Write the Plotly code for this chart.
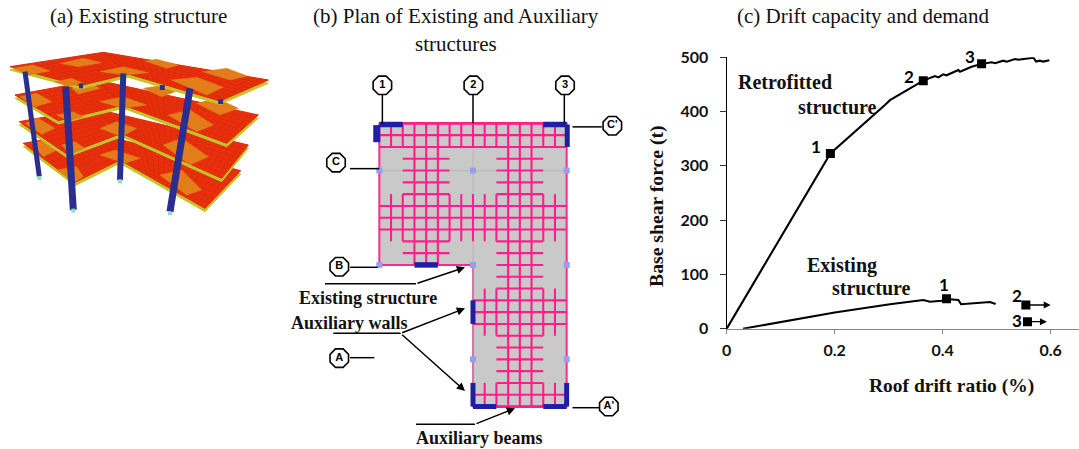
import plotly.graph_objects as go

W, H = 1079, 449

# ---------- panel (c) data ----------
retro_x = [0, .192, .293, .3024, .364, .3857, .392, .401, .407, .429, .432, .4535, .472, .4907, .497, .512, .5185, .534, .54, .5585, .568, .573, .58, .586, .5975]
retro_y = [0, 323, 412, 421, 457, 465.5, 463, 468.7, 466.8, 476.6, 473.5, 482.7, 487.6, 490.8, 489, 493.8, 492, 496.9, 495.6, 498.7, 499.3, 492, 493.8, 492, 494.5]
exist_x = [.03, .2, .3024, .3395, .364, .3765, .398, .407, .429, .434, .4876, .498]
exist_y = [0, 30, 45, 49.2, 52.9, 49.7, 51.5, 54.7, 52.9, 45, 49.2, 45.5]
retro_mark_x = [.192, .364, .472]
retro_mark_y = [323, 457, 488]
exist_mark_x = [.407, .554, .557]
exist_mark_y = [55, 43.6, 13]
x_ticks = [0, .2, .4, .6]
x_tick_labels = ["0", "0.2", "0.4", "0.6"]
y_ticks = [0, 100, 200, 300, 400, 500]

# ---------- panel (b) data, in plan grid units (column, row) ----------
plan_outline_c = [0, 16, 16, 8, 8, 0, 0]
plan_outline_r = [0, 0, 24, 24, 12, 12, 0]
h_lines = [  # row, from column, to column
    (1, 0, 16), (2, 0, 16),
    (3, 2, 6), (4, 2, 6), (5, 2, 6), (6, 2, 6),
    (3, 10, 14), (4, 10, 14), (5, 10, 14), (6, 10, 14),
    (7, 0, 16), (8, 0, 16), (9, 0, 16),
    (10, 2, 6), (11, 2, 6), (10, 10, 14), (11, 10, 14),
    (12, 10, 14), (13, 10, 14), (14, 10, 14),
    (15, 8, 16), (16, 8, 16), (17, 8, 16),
    (18, 10, 14), (19, 10, 14), (20, 10, 14), (21, 10, 14), (22, 10, 14),
    (23, 8, 16),
]
v_lines = [  # column, from row, to row
    (1, 0, 2), (2, 0, 2), (6, 0, 2), (7, 0, 2), (8, 0, 2), (9, 0, 2), (10, 0, 2), (14, 0, 2), (15, 0, 2),
    (1, 6, 10), (2, 6, 10), (6, 6, 10), (7, 6, 10), (8, 6, 10), (9, 6, 10), (10, 6, 10), (14, 6, 10), (15, 6, 10),
    (9, 14, 18), (10, 14, 18), (14, 14, 18), (15, 14, 18),
    (9, 22, 24), (10, 22, 24), (14, 22, 24), (15, 22, 24),
    (3, 0, 12), (4, 0, 12), (5, 0, 12),
    (11, 0, 24), (12, 0, 24), (13, 0, 24),
]
thin_c = [0, 16, None, 8, 8]
thin_r = [4, 4, None, 0, 24]
walls = [  # c0, r0, c1, r1, width
    (0, .1, 2, .1, 5.5), (14, .1, 16, .1, 5.5), (-.22, .15, -.22, 1.6, 7), (16.05, .1, 16.05, 2, 5),
    (3, 12, 5, 12, 5.5), (8, 15, 8, 17, 5), (8, 22, 8, 24, 5), (16, 22, 16, 24, 5),
    (8, 24, 10, 24, 5), (14, 24, 16, 24, 5),
]
node_c = [0, 8, 16, 0, 8, 16, 8, 16]
node_r = [4, 4, 4, 12, 12, 12, 20, 20]
bubble_c = [.26, 8.03, 15.86, 19.9, -3.7, -3.42, -3.42, 19.6]
bubble_r = [-3.22, -3.22, -3.22, .2, 3.33, 12.15, 19.9, 24]
bubble_text = ["1", "2", "3", "C'", "C", "B", "A", "A'"]
leaders = [
    ((.26, .26), (-2.4, 0)), ((8, 8), (-2.4, 0)), ((15.8, 15.8), (-2.4, 0)),
    ((16.5, 19), (.3, .3)), ((-2.5, 0), (3.84, 3.84)), ((-2.5, -.14), (12.2, 12.2)),
    ((-2.5, -.43), (19.86, 19.86)), ((16.5, 18.8), (24.1, 24.1)),
]
pointer_tails = [
    ((-4.64, 3.13), (13.6, 13.6)), ((-3.93, 1.82), (17.8, 17.8)), ((3.13, 8.17), (25.5, 25.5)),
]
pointer_heads = [  # tail c, tail r, head c, head r
    (3.13, 13.6, 7.32, 12.2), (1.82, 17.8, 7.32, 15.68), (1.82, 17.8, 7.32, 22.68), (8.17, 25.5, 11.59, 24.15),
]

# ---------- panel (a) data, in sketch units ----------
floors = [  # bottom to top: left, back, far right, front right, inner, front left
    [(70, 430), (270, 395), (722, 512), (615, 625), (360, 480), (225, 547)],
    [(58, 365), (280, 325), (745, 435), (665, 535), (365, 400), (200, 462)],
    [(45, 285), (290, 240), (775, 345), (680, 430), (370, 315), (175, 362)],
    [(30, 200), (310, 157), (805, 240), (660, 303), (385, 222), (240, 257)],
]
floor_panels = [
    [[(95, 430), (135, 420), (170, 450), (130, 470)], [(170, 510), (230, 500), (250, 530), (225, 545)],
     [(300, 465), (345, 450), (420, 475), (375, 490)], [(480, 525), (545, 510), (605, 570), (560, 585)]],
    [[(75, 370), (115, 355), (165, 385), (125, 403)], [(185, 435), (225, 425), (255, 445), (210, 462)],
     [(300, 385), (350, 365), (410, 385), (365, 410)], [(490, 435), (545, 415), (625, 470), (570, 495)]],
    [[(60, 290), (110, 280), (155, 305), (105, 320)], [(170, 345), (220, 335), (250, 350), (205, 362)],
     [(300, 305), (370, 290), (440, 315), (370, 325)], [(430, 265), (495, 255), (525, 275), (485, 290)],
     [(505, 345), (570, 330), (640, 375), (590, 395)], [(590, 310), (650, 295), (715, 325), (660, 345)],
     [(215, 265), (280, 255), (300, 265), (235, 282)]],
    [[(40, 205), (100, 195), (150, 213), (85, 225)], [(180, 190), (250, 175), (305, 188), (235, 200)],
     [(300, 215), (370, 200), (445, 218), (375, 225)], [(165, 245), (215, 235), (250, 250), (205, 258)],
     [(435, 183), (470, 178), (535, 195), (500, 205)], [(515, 240), (590, 232), (670, 262), (620, 285)],
     [(608, 215), (680, 205), (742, 228), (690, 240)]],
]
columns = [  # x0, y0, x1, y1, width
    (75, 215, 118, 530, 5), (197, 260, 220, 630, 7), (370, 220, 360, 540, 6), (570, 265, 510, 635, 7),
    (243, 250, 243, 265, 4), (487, 255, 487, 270, 5), (662, 298, 662, 312, 5),
]
column_feet_x = [118, 220, 360, 510]
column_feet_y = [534, 632, 544, 640]

fig = go.Figure()
skip = dict(showlegend=False, hoverinfo="skip")


def lerp(p, q, t):
    return (p[0] + (q[0] - p[0]) * t, p[1] + (q[1] - p[1]) * t)


def quad(a, b, c, d, u, v):
    return lerp(lerp(a, b, u), lerp(d, c, u), v)


def add3(xs, ys, **kw):
    fig.add_trace(go.Scatter(x=xs, y=ys, xaxis="x3", yaxis="y3", **skip, **kw))


def add2(xs, ys, **kw):
    fig.add_trace(go.Scatter(x=xs, y=ys, xaxis="x2", yaxis="y2", **skip, **kw))


# ---- panel (a)
for fl, patches in zip(floors, floor_panels):
    p0, p1, p2, p3, p4, p5 = fl
    shadow = fl + [fl[0]]
    add3([p[0] for p in shadow], [p[1] + 10 for p in shadow], mode="lines", fill="toself",
         fillcolor="#c4c428", line=dict(color="#c4c428", width=1))
    add3([p[0] for p in shadow], [p[1] for p in shadow], mode="lines", fill="toself",
         fillcolor="#ea2f0c", line=dict(color="#ea2f0c", width=1))
    gx, gy = [], []
    for corners, nu, nv in (((p0, p1, p4, p5), 12, 8), ((p1, p2, p3, p4), 22, 8)):
        for i in range(nu + 1):
            a, b = quad(*corners, i / nu, 0), quad(*corners, i / nu, 1)
            gx += [a[0], b[0], None]
            gy += [a[1], b[1], None]
        for j in range(nv + 1):
            a, b = quad(*corners, 0, j / nv), quad(*corners, 1, j / nv)
            gx += [a[0], b[0], None]
            gy += [a[1], b[1], None]
    add3(gx, gy, mode="lines", line=dict(color="rgba(150,30,0,0.22)", width=.7))
    for patch in patches:
        ring = patch + [patch[0]]
        add3([p[0] for p in ring], [p[1] for p in ring], mode="lines", fill="toself",
             fillcolor="#e27d1a", line=dict(color="#e27d1a", width=.5))
for x0, y0, x1, y1, w in columns:
    add3([x0, x1], [y0, y1], mode="lines", line=dict(color="#2a2e90", width=w))
add3(column_feet_x, column_feet_y, mode="markers",
     marker=dict(symbol="square", size=4, color="#8fe0c0"))

# ---- panel (b)
add2(plan_outline_c, plan_outline_r, mode="lines", fill="toself", fillcolor="#c9c9c9",
     line=dict(color="#ff2a90", width=2))
add2(thin_c, thin_r, mode="lines", line=dict(color="#b8b8b8", width=1))
pc, pr = [], []
for r, c0, c1 in h_lines:
    pc += [c0, c1, None]
    pr += [r, r, None]
for c, r0, r1 in v_lines:
    pc += [c, c, None]
    pr += [r0, r1, None]
add2(pc, pr, mode="lines", line=dict(color="#ff1f8c", width=2.1))
add2([2, 14], [0, 0], mode="lines", line=dict(color="#ff1f8c", width=2.8))
add2([10, 14], [24, 24], mode="lines", line=dict(color="#ff1f8c", width=2.8))
for c0, r0, c1, r1, w in walls:
    add2([c0, c1], [r0, r1], mode="lines", line=dict(color="#1f1fa6", width=w))
add2(node_c, node_r, mode="markers", marker=dict(symbol="square", size=6, color="#9a9cf2"))
for cs, rs in leaders + pointer_tails:
    add2(list(cs), list(rs), mode="lines", line=dict(color="black", width=1.5))
add2(bubble_c, bubble_r, mode="markers+text", text=bubble_text, textposition="middle center",
     textfont=dict(family="Liberation Sans", size=11, color="black", weight="bold"),
     marker=dict(symbol="octagon", size=20, color="white", line=dict(color="black", width=1.6)))

# ---- panel (c)
line_kw = dict(color="black", width=2.1)
fig.add_trace(go.Scatter(x=retro_x, y=retro_y, mode="lines", line=line_kw, **skip))
fig.add_trace(go.Scatter(x=exist_x, y=exist_y, mode="lines", line=line_kw, **skip))
mk = dict(symbol="square", size=9, color="black")
fig.add_trace(go.Scatter(x=retro_mark_x, y=retro_mark_y, mode="markers", marker=mk, **skip))
fig.add_trace(go.Scatter(x=exist_mark_x, y=exist_mark_y, mode="markers", marker=mk, **skip))


def px_note(text, x, y, size, family="Liberation Serif", bold=False, angle=0, color="#111"):
    label = f"<b>{text}</b>" if bold else text
    fig.add_annotation(xref="paper", yref="paper", x=x / W, y=1 - y / H, text=label, showarrow=False,
                       xanchor="center", yanchor="middle", textangle=angle,
                       font=dict(family=family, size=size, color=color))


px_note("(a) Existing structure", 138.7, 16, 21)
px_note("(b) Plan of Existing and Auxiliary", 455.7, 16, 21)
px_note("structures", 456, 44, 21)
px_note("(c) Drift capacity and demand", 862.8, 16, 21)
px_note("Existing structure", 368.3, 298, 18, bold=True)
px_note("Auxiliary walls", 349.3, 323, 18, bold=True)
px_note("Auxiliary beams", 479, 438, 18, bold=True)
px_note("Retrofitted", 785, 82, 20, bold=True)
px_note("structure", 837, 107, 20, bold=True)
px_note("Existing", 842, 265, 20, bold=True)
px_note("structure", 871.5, 288, 20, bold=True)
px_note("Roof drift ratio (%)", 951, 386, 19.5, bold=True)
px_note("Base shear force (t)", 656, 206, 19.7, bold=True, angle=-90)
for txt, x, y in (("1", 815.7, 146), ("2", 909, 76), ("3", 970, 57), ("1", 944, 284), ("2", 1016.7, 295), ("3", 1016.7, 320)):
    px_note(txt, x, y, 17, family="Lato", bold=True, color="black")

for c0, r0, c1, r1 in pointer_heads:
    fig.add_annotation(xref="x2", yref="y2", axref="x2", ayref="y2", x=c1, y=r1, ax=c0, ay=r0, text="",
                       showarrow=True, arrowhead=2, arrowsize=1.1, arrowwidth=1.5, arrowcolor="black")
for x0, x1, y in ((.557, .6, 43.6), (.56, .593, 13)):
    fig.add_annotation(xref="x", yref="y", axref="x", ayref="y", x=x1, y=y, ax=x0, ay=y, text="",
                       showarrow=True, arrowhead=2, arrowsize=1, arrowwidth=1.4, arrowcolor="black")

# plan grid: 11.708 px per column, 11.8 px per row, origin at (379.33, 123.33)
cx = lambda px: (px - 379.33) / 11.708
ry = lambda py: (py - 123.33) / 11.8
hidden = dict(visible=False, fixedrange=True)
tick_font = dict(family="Lato", size=16, color="#111", weight="bold")
fig.update_layout(
    width=W, height=H, margin=dict(l=0, r=0, t=0, b=0, autoexpand=False), paper_bgcolor="white", plot_bgcolor="rgba(0,0,0,0)",
    showlegend=False, autosize=False,
    xaxis=dict(domain=[726.7 / W, 1], range=[0, 352.3 / 540], tickvals=x_ticks, ticktext=x_tick_labels,
               showgrid=False, zeroline=False, showline=True, linecolor="#888", linewidth=1.2,
               ticks="outside", tickcolor="#888", ticklen=4, tickfont=tick_font, ticklabelstandoff=3),
    yaxis=dict(domain=[1 - 328.7 / H, 1 - 57.3 / H], range=[0, 500], tickvals=y_ticks,
               showgrid=False, zeroline=False, showline=True, linecolor="black", linewidth=1.2,
               ticks="outside", tickcolor="#333", ticklen=6, tickfont=tick_font, ticklabelstandoff=8),
    xaxis2=dict(domain=[290 / W, 640 / W], range=[cx(290), cx(640)], anchor="y2", **hidden),
    yaxis2=dict(domain=[0, 1], range=[ry(449), ry(0)], anchor="x2", **hidden),
    xaxis3=dict(domain=[0, 290 / W], range=[0, 870], anchor="y3", **hidden),
    yaxis3=dict(domain=[0, 1], range=[1347, 0], anchor="x3", **hidden),
)
fig.write_html("out.html", config={"displayModeBar": False},
               post_script="document.body.style.margin='0';document.documentElement.style.overflow='hidden';")
